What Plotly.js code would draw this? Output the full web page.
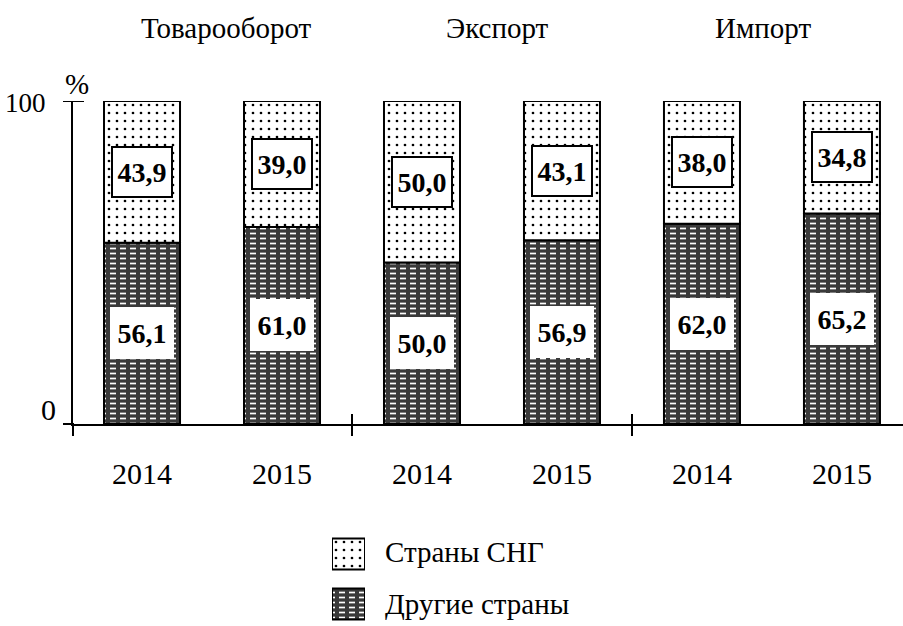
<!DOCTYPE html>
<html>
<head>
<meta charset="utf-8">
<script src="https://cdn.plot.ly/plotly-3.0.1.min.js"></script>
<style>
html,body{margin:0;padding:0;background:#fff;}
#chart{width:903px;height:626px;}
#fontwarm{position:absolute;left:-2000px;top:0;font-family:'Liberation Serif',serif;font-size:29px;}
</style>
</head>
<body>
<div id="fontwarm">Товарооборот Экспорт Импорт 2014 2015 Страны СНГ Другие страны % 0 100 <b>43,9 56,1</b></div>
<div id="chart"></div>
<script>
// ---- data ----
var groups = ['Товарооборот', 'Экспорт', 'Импорт'];
var years = ['2014', '2015'];
var cisName = 'Страны СНГ';
var otherName = 'Другие страны';
var cisValues = [43.9, 39.0, 50.0, 43.1, 38.0, 34.8];
var otherValues = [56.1, 61.0, 50.0, 56.9, 62.0, 65.2];
var yTickVals = [0, 100];
var yTickText = ['0', '100'];
var yUnit = '%';

// ---- derived ----
var xIdx = [], xTicks = [];
groups.forEach(function (g, gi) {
  years.forEach(function (y, yi) {
    xIdx.push(gi * years.length + yi);
    xTicks.push(y);
  });
});
function fmt(v) { return v.toFixed(1).replace('.', ','); }

var W = 903, H = 626;
var plotL = 73, plotR = 903, plotT = 101, plotB = 424;
function py(p) { return 1 - p / H; }
var FONT = 'Liberation Serif, Times New Roman, serif';

var dotPattern = {shape: '.', fgcolor: '#000', bgcolor: '#fff', size: 8, solidity: 0.09};
var dashPattern = {shape: '-', fgcolor: '#fff', bgcolor: '#3a3a3a', size: 5, solidity: 0.34};
var breakPattern = {shape: '|', fgcolor: '#3a3a3a', bgcolor: 'rgba(0,0,0,0)', size: 10, solidity: 0.4};

var barW = 0.543;
var traces = [
  {type: 'bar', x: xIdx, y: otherValues, base: 0, width: barW, name: otherName, showlegend: false,
   marker: {pattern: dashPattern, line: {width: 0}}, xaxis: 'x', yaxis: 'y'},
  {type: 'bar', x: xIdx, y: otherValues, base: 0, width: barW, showlegend: false,
   marker: {color: 'rgba(0,0,0,0)', pattern: breakPattern, line: {color: '#000', width: 2}}, xaxis: 'x', yaxis: 'y'},
  {type: 'bar', x: xIdx, y: cisValues, base: otherValues, width: barW, name: cisName, showlegend: false,
   marker: {pattern: dotPattern, line: {color: '#000', width: 2}}, xaxis: 'x', yaxis: 'y'},
  // legend swatches
  {type: 'bar', orientation: 'h', y: [1], x: [1], width: 0.62, showlegend: false,
   marker: {pattern: dotPattern, line: {color: '#000', width: 2}}, xaxis: 'x2', yaxis: 'y2'},
  {type: 'bar', orientation: 'h', y: [0], x: [1], width: 0.62, showlegend: false,
   marker: {pattern: dashPattern, line: {width: 0}}, xaxis: 'x2', yaxis: 'y2'},
  {type: 'bar', orientation: 'h', y: [0], x: [1], width: 0.62, showlegend: false,
   marker: {color: 'rgba(0,0,0,0)', pattern: breakPattern, line: {color: '#000', width: 2}}, xaxis: 'x2', yaxis: 'y2'}
];

var annotations = [];
// value labels
xIdx.forEach(function (x, i) {
  annotations.push({x: x, y: otherValues[i] / 2, xref: 'x', yref: 'y', text: '<b>' + fmt(otherValues[i]) + '</b>',
    showarrow: false, xanchor: 'center', yanchor: 'middle', font: {family: FONT, size: 28, color: '#000'}, bgcolor: '#fff',
    width: 60, height: 48, borderpad: 2, borderwidth: 0});
  annotations.push({x: x, y: otherValues[i] + cisValues[i] / 2, xref: 'x', yref: 'y', text: '<b>' + fmt(cisValues[i]) + '</b>',
    showarrow: false, xanchor: 'center', yanchor: 'middle', font: {family: FONT, size: 28, color: '#000'}, bgcolor: '#fff',
    bordercolor: '#000', borderwidth: 2, width: 54, height: 44, borderpad: 2});
});
// group titles
var titleShift = [14, 6, -9];
groups.forEach(function (g, gi) {
  annotations.push({x: gi * years.length + (years.length - 1) / 2, y: py(28), xref: 'x', yref: 'paper',
    xanchor: 'center', yanchor: 'middle',
    text: g, showarrow: false, xshift: titleShift[gi], font: {family: FONT, size: 29, color: '#000'}});
});
// y tick labels
annotations.push({x: 58 / W, y: yTickVals[0], xref: 'paper', yref: 'y', yshift: 15, xanchor: 'right', yanchor: 'middle', text: yTickText[0],
  showarrow: false, font: {family: FONT, size: 30, color: '#000'}});
annotations.push({x: 48 / W, y: yTickVals[1], xref: 'paper', yref: 'y', yshift: -2, xanchor: 'right', yanchor: 'middle', text: yTickText[1],
  showarrow: false, font: {family: FONT, size: 27, color: '#000'}});
annotations.push({x: 77 / W, y: py(84), xref: 'paper', yref: 'paper', xanchor: 'center', yanchor: 'middle', text: yUnit,
  showarrow: false, font: {family: FONT, size: 29, color: '#000'}});
// legend texts
annotations.push({x: 383 / W, y: 1, xref: 'paper', yref: 'y2', xanchor: 'left', yanchor: 'middle', yshift: 2, text: cisName,
  showarrow: false, font: {family: FONT, size: 29, color: '#000'}});
annotations.push({x: 383 / W, y: 0, xref: 'paper', yref: 'y2', xanchor: 'left', yanchor: 'middle', text: otherName,
  showarrow: false, font: {family: FONT, size: 29, color: '#000'}});

var shapes = [
  // x axis extension left
  {type: 'line', xref: 'paper', yref: 'paper', x0: 63 / W, x1: 74 / W, y0: py(plotB), y1: py(plotB), line: {color: '#000', width: 2}},
  // y axis extension below
  {type: 'line', xref: 'paper', yref: 'paper', x0: plotL / W, x1: plotL / W, y0: py(plotB), y1: py(436), line: {color: '#000', width: 2}},
  // tick at 100
  {type: 'line', xref: 'paper', yref: 'y', x0: 63 / W, x1: 84 / W, y0: 100, y1: 100, line: {color: '#000', width: 2}}
];
for (var gi = 1; gi < groups.length; gi++) {
  var sx = gi * years.length - 0.5;
  shapes.push({type: 'line', xref: 'x', yref: 'paper', x0: sx, x1: sx, y0: py(414), y1: py(436), line: {color: '#000', width: 2}});
}

var layout = {
  width: W, height: H,
  margin: {l: 0, r: 0, t: 0, b: 0},
  paper_bgcolor: '#fff', plot_bgcolor: 'rgba(0,0,0,0)',
  barmode: 'overlay',
  showlegend: false,
  hovermode: false,
  font: {family: FONT, color: '#000'},
  xaxis: {domain: [plotL / W, plotR / W], range: [-0.493, 5.436], showgrid: false, zeroline: false,
    showline: true, linecolor: '#000', linewidth: 2, tickvals: xIdx, ticktext: xTicks, ticks: '',
    ticklabelstandoff: 22, tickfont: {family: FONT, size: 30, color: '#000'}, fixedrange: true},
  yaxis: {domain: [py(plotB), py(plotT)], range: [0, 100], showgrid: false, zeroline: false,
    showline: true, linecolor: '#000', linewidth: 2, showticklabels: false, ticks: '', fixedrange: true},
  xaxis2: {domain: [332 / W, 365 / W], range: [0, 1], visible: false, fixedrange: true, anchor: 'y2'},
  yaxis2: {domain: [0, 96 / H], range: [-0.44, 1.48], visible: false, fixedrange: true, anchor: 'x2'},
  annotations: annotations,
  shapes: shapes
};

var config = {displayModeBar: false, staticPlot: true};
Plotly.newPlot('chart', traces, layout, config);
if (document.fonts && document.fonts.load) {
  Promise.all([
    document.fonts.load('29px "Liberation Serif"', 'Товарооборот 2014'),
    document.fonts.load('bold 28px "Liberation Serif"', '43,9')
  ]).then(function () {
    Plotly.newPlot('chart', traces, layout, config);
  }, function () {});
}
</script>
</body>
</html>
